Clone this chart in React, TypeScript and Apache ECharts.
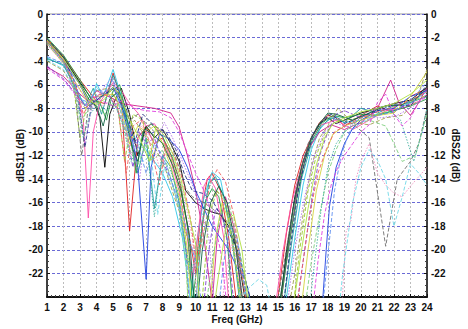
import React, { useEffect, useRef } from "react";
import * as echarts from "echarts";

// Frequency axis ticks (GHz) and magnitude axis range (dB)
const FREQ_TICKS = [1, 2, 3, 4, 5, 6, 7, 8, 9, 10, 11, 12, 13, 14, 15, 16, 17, 18, 19, 20, 21, 22, 23, 24];
const DB_MIN = -24;
const DB_MAX = 0;

// Measured return-loss traces, [freq GHz, dB]
const trace01 = [[1,-2.1],[2,-3.6],[3,-5.6],[4,-7.4],[4.5,-7.6],[5,-5.0],[5.5,-7.2],[6,-18.4],[6.5,-10.5],[7,-9.6],[7.5,-11],[8,-10.5],[8.5,-12],[9,-14],[9.5,-18],[10,-22],[10.3,-17],[10.7,-14],[11,-13.5],[11.5,-15],[12,-19],[12.6,-26],[14.8,-26],[15.5,-18.5],[16,-14.5],[16.5,-12],[17,-10.5],[17.5,-9.2],[18,-8.6],[18.5,-8.8],[19,-9.5],[20,-8.6],[21,-7.8],[22,-8.4],[23,-7.0],[24,-6.3]];
const trace02 = [[1,-2.2],[2,-3.7],[3,-5.8],[3.8,-7.4],[4.2,-8.8],[4.5,-13],[4.8,-8.5],[5.2,-7],[5.5,-6.3],[6,-8.5],[6.5,-12],[7,-9.5],[7.5,-10.5],[8,-9.8],[8.5,-11],[9,-12.5],[9.4,-15],[10,-16],[10.5,-16.5],[11,-16.8],[11.5,-17],[12,-18],[12.5,-20],[13.2,-26],[15,-26],[15.5,-20],[16,-15.5],[16.5,-12.5],[17,-10.5],[17.5,-9.3],[18,-8.8],[18.5,-9.3],[19,-9.0],[20,-8.4],[21,-8.0],[22,-7.6],[23,-7.3],[24,-6.2]];
const trace03 = [[1,-3.7],[2,-4.4],[2.6,-5.8],[3.2,-7.6],[3.6,-7.8],[4,-5.9],[4.4,-7],[5,-4.7],[5.4,-6.5],[5.8,-9],[6.3,-10.5],[7,-11.5],[7.5,-12.5],[8,-13.5],[8.6,-15.5],[9.2,-19],[9.7,-24.5],[10,-20],[10.5,-15.5],[11,-13.4],[11.5,-14],[12,-17.5],[12.6,-23],[13,-26],[15.3,-26],[16,-19],[16.5,-14.5],[17,-11.5],[17.5,-9.8],[18,-9.0],[18.5,-8.7],[19,-9.2],[20,-9],[21,-8.5],[22,-8.2],[23,-7.5],[24,-6.6]];
const trace04 = [[1,-3.8],[2,-4.3],[2.8,-6.5],[3.3,-7.8],[3.8,-6.3],[4.3,-8.5],[5,-5.2],[5.5,-7],[6,-10],[6.5,-13.5],[7,-10.5],[7.5,-16.5],[8,-12],[8.5,-13],[9,-16],[9.5,-21],[10,-24.5],[10.4,-18],[10.8,-14.3],[11.2,-13.8],[11.7,-15.5],[12.2,-19],[12.8,-26],[15.2,-26],[15.8,-19.5],[16.4,-14],[17,-11],[17.6,-9.5],[18.2,-8.8],[19,-9.2],[20,-8.0],[21,-8.4],[22,-7.8],[23,-7.5],[24,-7.0]];
const trace05 = [[1,-4.5],[2,-5.3],[3,-6.8],[3.5,-7.4],[4,-6.5],[5,-7.2],[5.5,-7.6],[6.5,-7.8],[7.5,-8.0],[8.5,-8.4],[9,-9.6],[9.5,-12],[10,-15],[10.5,-19],[11,-24.5],[11.3,-19],[11.8,-15.5],[12.3,-18],[12.8,-24.5],[15,-26],[15.6,-20],[16.2,-14.5],[16.8,-11.5],[17.5,-10],[18.2,-9.4],[19,-9.8],[20,-9.2],[21,-8.0],[21.8,-5.6],[22.3,-7.5],[23,-8.6],[23.5,-7.5],[24,-6.2]];
const trace06 = [[1,-2.3],[2,-3.9],[2.7,-5.8],[3.2,-9],[3.5,-17.3],[3.8,-10],[4.2,-7.5],[5,-5.8],[5.5,-6.5],[6,-7.6],[6.5,-8.4],[7,-9.5],[7.5,-9.3],[8,-10.5],[8.5,-12.5],[9,-15],[9.5,-19],[9.8,-22.5],[10.1,-19],[10.5,-14.6],[10.8,-13.8],[11.2,-14.8],[11.7,-19],[12,-24.5],[14.7,-26],[15.3,-20],[15.8,-16],[16.5,-12.5],[17,-10.5],[17.6,-9.4],[18.5,-9.0],[19.5,-9.8],[20.5,-9.0],[21.5,-8.2],[22.5,-8.0],[23.5,-7.4],[24,-6.8]];
const trace07 = [[1,-2.3],[2,-4],[3,-6],[3.6,-7.8],[4,-7.3],[4.5,-6.8],[5,-6.2],[5.5,-7.8],[6,-9.5],[6.5,-13],[7,-22.5],[7.3,-13],[7.8,-10.2],[8.3,-10.5],[9,-11.5],[9.5,-13],[10,-15],[10.5,-16.5],[11,-18],[11.5,-19],[12,-20],[12.5,-21.5],[13,-22.5],[13.6,-26],[17.6,-26],[17.9,-20],[18.1,-16.3],[18.5,-13],[19,-11],[19.5,-9.7],[20,-9.0],[21,-8.2],[22,-8.0],[23,-7.0],[24,-6.5]];
const trace08 = [[1,-2.0],[2,-3.5],[3,-5.6],[3.7,-7.3],[4.2,-7.5],[4.6,-9],[5,-6.5],[5.4,-6],[5.8,-8.5],[6.4,-13.5],[6.8,-10],[7.3,-9.3],[8,-10.4],[8.6,-12.2],[9.1,-14.5],[9.5,-18],[9.8,-24.5],[10.2,-20],[10.6,-15.8],[11,-14.8],[11.4,-15.5],[11.9,-19],[12.3,-26],[15,-26],[15.5,-21],[16,-16.5],[16.5,-13],[17,-10.8],[17.6,-9.3],[18.3,-8.6],[19,-8.8],[20,-8.5],[21,-8.6],[22,-8.2],[23,-7.8],[24,-7.2]];
const trace09 = [[1,-2.4],[2,-4],[2.6,-6],[3,-10.5],[3.4,-7.8],[4,-7.5],[4.7,-6.5],[5.2,-7],[5.7,-12.5],[6.2,-8.5],[6.8,-9],[7.3,-12.5],[7.8,-10.5],[8.3,-11.5],[8.8,-13.5],[9.3,-17],[9.6,-26],[10.3,-26],[10.8,-17],[11.3,-15],[11.8,-16],[12.3,-19.5],[12.8,-26],[15.8,-26],[16.3,-20],[16.8,-15],[17.3,-12],[17.8,-10.2],[18.4,-9.2],[19,-9.0],[20,-8.8],[21,-8.5],[22,-8.1],[23,-7.4],[24,-6.9]];
const trace10 = [[1,-2.5],[2,-4.2],[3,-6.4],[3.5,-7.6],[4,-7.0],[5,-6.8],[5.5,-8],[6,-11],[6.5,-9.5],[7,-10],[7.5,-9.5],[8,-11],[8.5,-13],[9,-15.5],[9.5,-20],[9.8,-26],[10.8,-26],[11.2,-19],[11.6,-16],[12,-17.5],[12.5,-22],[13,-26],[16.3,-26],[16.8,-20],[17.3,-15],[17.8,-12],[18.3,-10.2],[19,-9.5],[20,-9.0],[21,-8.6],[22,-8.4],[23,-7.0],[24,-4.9]];
const trace11 = [[1,-4.4],[2,-5.5],[3,-7.2],[3.5,-8],[4,-7],[4.6,-6.5],[5.2,-8],[5.8,-10],[6.2,-13],[6.6,-10],[7,-11],[7.5,-10.5],[8,-12.5],[8.5,-14],[9,-16.5],[9.4,-20],[9.7,-26],[10.4,-26],[10.8,-20],[11.2,-16.5],[11.6,-17],[12,-20],[12.4,-26],[16,-26],[16.5,-21],[17,-16],[17.5,-12],[18,-10],[18.5,-8.5],[19,-8.2],[20,-8.8],[21,-8.0],[22,-8.2],[23,-7.6],[24,-6.4]];
const trace12 = [[1,-2.2],[2,-3.8],[2.7,-6.5],[3.1,-12],[3.5,-8],[4,-7.3],[5,-6],[5.5,-7.5],[6,-9],[6.5,-8.5],[7,-9.3],[7.5,-10],[8,-9.8],[8.5,-11],[9,-13],[9.4,-14.8],[9.8,-15.5],[10.5,-16],[11,-16.5],[11.6,-17.2],[12.2,-18],[12.7,-20.5],[13.3,-26],[14.5,-26],[15,-24],[15.6,-19],[16.2,-14],[16.8,-11],[17.4,-9.4],[18,-8.5],[18.5,-8.8],[19.5,-9.3],[20.5,-10.5],[21.5,-19.7],[22.2,-14],[23,-12.5],[23.5,-11],[24,-8]];
const trace13 = [[1,-2.1],[2,-3.6],[2.8,-6.2],[3.3,-11.3],[3.7,-7.6],[4.5,-6.8],[5.2,-6.2],[5.8,-8],[6.3,-11],[6.8,-8.5],[7.5,-9.5],[8.2,-10],[8.8,-11.5],[9.3,-13.5],[9.8,-15],[10.4,-15.2],[11,-15.8],[11.7,-17.5],[12.5,-20],[13.2,-23.5],[13.6,-26],[15.2,-26],[15.7,-20],[16.2,-15],[16.7,-12],[17.2,-10],[17.7,-9],[18.2,-8.5],[19,-9.3],[20,-8.7],[21,-8.2],[22,-7.7],[23,-7.8],[24,-6.0]];
const trace14 = [[1,-2.3],[2,-3.9],[2.7,-6.3],[3,-9],[3.5,-8.2],[4,-7.8],[4.5,-8.5],[5,-7.5],[5.5,-8.8],[6,-11.5],[6.5,-12.8],[7,-11],[7.5,-12.3],[8,-11.5],[8.5,-14],[9,-16.5],[9.4,-21],[9.6,-26],[10.5,-26],[11,-21],[11.5,-17],[12,-16],[12.5,-19],[13,-22.5],[13.5,-26],[16.5,-26],[17,-21],[17.5,-17],[18,-13.5],[18.5,-11.5],[19,-10],[19.5,-9.5],[20.5,-9.0],[21.5,-9.5],[22.5,-12.5],[23.3,-12],[24,-8.5]];
const trace15 = [[1,-4.0],[2,-4.8],[2.8,-6.8],[3.3,-8],[4,-6.5],[4.7,-6.3],[5.3,-7.5],[5.8,-10],[6.3,-9],[7,-10.5],[7.6,-11.5],[8.2,-13.3],[8.7,-15.5],[9.2,-17.5],[9.7,-20],[10.2,-20.5],[10.7,-17],[11.2,-15],[11.7,-15.5],[12.3,-18.5],[12.9,-23],[13.3,-26],[15.5,-26],[16,-22],[16.5,-17],[17,-13],[17.5,-10.5],[18,-9.5],[18.6,-8.0],[19.5,-9.2],[20.5,-9.4],[21.5,-8.8],[22.5,-8.6],[23.3,-7.5],[24,-4.7]];
const trace16 = [[1,-2.6],[2,-4.2],[3,-6.5],[3.6,-7.5],[4.3,-7.8],[5,-7.3],[5.6,-9],[6.1,-12],[6.7,-9.5],[7.3,-10.5],[7.8,-13],[8.3,-11.5],[8.8,-13],[9.3,-15.5],[9.8,-19],[10.2,-26],[11.5,-26],[11.8,-22],[12.2,-19.5],[12.6,-21],[13,-26],[18.8,-26],[19.1,-18.5],[19.4,-17.5],[19.7,-14],[20,-12.5],[20.5,-11],[21,-13.5],[21.5,-14.5],[22,-15.2],[22.5,-15.5],[23,-14.6],[23.5,-13.8],[24,-13]];
const trace17 = [[1,-3.9],[2,-4.7],[2.8,-6.7],[3.4,-7.8],[4,-6.2],[4.6,-7.2],[5.2,-6.8],[5.7,-9.5],[6.2,-11],[6.8,-12.5],[7.3,-12],[7.7,-17],[8.1,-13],[8.6,-14.5],[9.1,-17],[9.5,-22],[9.8,-26],[12.5,-26],[13,-23.5],[13.8,-22.5],[14.3,-23],[14.7,-26],[18.6,-26],[18.9,-22],[19.1,-20],[19.5,-16],[20,-13],[20.5,-11.5],[21,-12.4],[21.5,-14],[22,-18],[22.5,-15.5],[23,-12.7],[23.5,-13.5],[24,-14.5]];
const trace18 = [[1,-2.4],[2,-4.1],[2.9,-7.5],[3.3,-11],[3.7,-8],[4.3,-6.5],[4.9,-5.4],[5.4,-7.5],[6,-10],[6.6,-14],[7,-9.8],[7.6,-11],[8.1,-9.2],[8.6,-10.5],[9.2,-12.5],[9.8,-14.5],[10.3,-16.5],[10.8,-19],[11.2,-26],[15.4,-26],[16,-20],[16.6,-15.5],[17.2,-12],[17.8,-10],[18.4,-9.2],[19.2,-9.6],[20.2,-8.6],[21.2,-8.8],[22.2,-8.6],[23.2,-7.8],[24,-6.8]];
const trace19 = [[1,-2.2],[2,-3.7],[3,-5.9],[3.6,-7.4],[4,-7.8],[4.4,-9.5],[4.8,-7.2],[5.3,-6.6],[5.8,-9.3],[6.2,-11.5],[6.5,-12.5],[6.9,-9.7],[7.4,-10.2],[8,-11],[8.6,-12.8],[9.1,-15],[9.6,-18.5],[10,-26],[10.4,-20],[10.9,-16],[11.4,-14.6],[11.9,-16],[12.4,-19.5],[13,-26],[14.9,-26],[15.4,-21.5],[15.9,-16.5],[16.4,-13],[17,-10.5],[17.5,-9.3],[18,-8.4],[18.5,-8.5],[19.5,-9.0],[20.5,-8.4],[21.5,-7.8],[22.5,-7.7],[23.5,-7.0],[24,-6.2]];
const trace20 = [[1,-2.3],[2,-3.9],[2.8,-6.4],[3.2,-8.5],[3.7,-7.2],[4.2,-6.8],[4.8,-6.9],[5.3,-8],[5.8,-13.5],[6.2,-9.5],[6.7,-9],[7.2,-10.8],[7.8,-14.5],[8.2,-11],[8.7,-12],[9.2,-14],[9.7,-17.5],[10.1,-22],[10.5,-17],[10.9,-14.2],[11.3,-13.2],[11.8,-14.2],[12.3,-17],[12.8,-22],[13.2,-26],[16,-26],[16.4,-22],[16.9,-17],[17.4,-13.5],[17.9,-11.5],[18.4,-10],[19,-9.5],[20,-8.8],[21,-8.3],[22,-7.9],[23,-7.3],[24,-6.6]];
const trace21 = [[1,-3.6],[2,-4.2],[2.6,-5.4],[3,-7.2],[3.5,-7.5],[4,-6.4],[4.5,-6.6],[5,-5.5],[5.5,-7.8],[6,-10.5],[6.5,-11],[7,-13.5],[7.5,-11],[8,-12],[8.5,-14],[9,-16],[9.5,-18.5],[10,-21],[10.5,-26],[11.3,-26],[11.7,-21],[12.1,-18],[12.5,-19],[13,-23.5],[13.4,-26],[17.6,-26],[18,-20.5],[18.4,-15],[18.8,-12],[19.3,-10],[20,-9.2],[21,-8.6],[22,-8.3],[23,-7.3],[24,-5.8]];
const trace22 = [[1,-2.5],[2,-4.1],[2.8,-6.7],[3.2,-10.5],[3.6,-8.5],[4.1,-7.6],[4.6,-8.2],[5.1,-7.5],[5.6,-9.5],[6.1,-12.5],[6.6,-11],[7.1,-12],[7.5,-17.2],[7.9,-12.5],[8.4,-13],[8.9,-15],[9.3,-19],[9.7,-22],[10.2,-19.5],[10.7,-15],[11.1,-13.9],[11.6,-15],[12.1,-18],[12.6,-23],[13,-26],[16.8,-26],[17.2,-21],[17.6,-16.5],[18,-13],[18.5,-11],[19,-10],[19.6,-9.3],[20.4,-8.2],[21.4,-7.8],[22.4,-9.0],[23.2,-12.5],[23.7,-10],[24,-8]];
const trace23 = [[1,-4.6],[2,-5.6],[2.8,-7],[3.3,-7.8],[3.8,-7],[4.5,-7.5],[5,-7.8],[5.6,-7.3],[6.3,-8],[7,-8.2],[7.8,-8.3],[8.5,-8.8],[9,-10],[9.5,-11.8],[10,-13.5],[10.5,-15],[11,-17],[11.5,-20],[12,-26],[17,-26],[17.4,-21],[17.8,-17],[18.2,-14.5],[18.6,-13],[19,-12],[19.5,-11],[20,-10],[20.5,-9.4],[21,-7.5],[21.5,-6.8],[22,-8.5],[22.5,-9.5],[23,-8.8],[23.5,-7.5],[24,-7.0]];
const trace24 = [[1,-2.2],[2,-3.8],[3,-6],[3.5,-7.3],[4,-7.7],[4.5,-7.2],[5,-6.2],[5.4,-6.8],[6,-9],[6.6,-10.5],[7.2,-12.5],[7.6,-9.5],[8.1,-10.3],[8.6,-11.8],[9.1,-14],[9.6,-17],[10,-19.5],[10.3,-26],[11,-26],[11.4,-22],[11.9,-17.5],[12.3,-17],[12.8,-20],[13.3,-26],[15.8,-26],[16.3,-21],[16.8,-16.5],[17.3,-12.8],[17.8,-10.5],[18.3,-9.3],[19,-8.8],[20,-8.3],[21,-8.0],[22,-7.6],[23,-6.8],[24,-5.6]];

const TRACES = [trace01, trace02, trace03, trace04, trace05, trace06, trace07, trace08, trace09, trace10, trace11, trace12, trace13, trace14, trace15, trace16, trace17, trace18, trace19, trace20, trace21, trace22, trace23, trace24];

// Line colours and dash patterns, one per trace
const TRACE_COLORS = ["#e02020", "#000000", "#30c8e8", "#209a9a", "#d0208c", "#ff4fa8", "#2040e0", "#20a040", "#9acd32", "#d4d440", "#8040d0", "#707070", "#203080", "#80d080", "#a0a050", "#f090c0", "#70d8e8", "#b070e8", "#106040", "#f06060", "#6090f0", "#40b0a0", "#e040e0", "#b0e040"];
const TRACE_DASH = ["solid", "solid", "solid", "solid", "solid", "solid", "solid", "solid", "dashed", "solid", "dashed", "dashed", "dashed", "dashed", "dashed", "dotted", "dashed", "dotted", "solid", "dashed", "dashed", "dotted", "dashed", "solid"];

const FONT = "'Liberation Sans', Arial, sans-serif";

export default function App() {
  const ref = useRef<HTMLDivElement>(null);

  useEffect(() => {
    document.body.style.margin = "0";
    if (!ref.current) return;
    const chart = echarts.init(ref.current, null, { renderer: "svg" });

    const dashFor = (d: string) => (d === "dashed" ? [4, 2] : d === "dotted" ? [1.5, 1.5] : "solid");

    const axisLabel = { color: "#111", fontFamily: FONT, fontWeight: "bold" as const, fontSize: 10 };
    const nameStyle = { color: "#111", fontFamily: FONT, fontWeight: "bold" as const, fontSize: 10 };

    const yAxisBase = {
      type: "value" as const,
      min: DB_MIN,
      max: DB_MAX,
      interval: 2,
      nameLocation: "middle" as const,
      nameMoveOverlap: false,
      nameTextStyle: nameStyle,
      axisLine: { show: true, lineStyle: { color: "#111", width: 1.5 } },
      axisTick: { show: true, inside: true, length: 3, lineStyle: { color: "#111" } },
      minorTick: { show: true, splitNumber: 4, length: 2, lineStyle: { color: "#444" } },
      axisLabel: { ...axisLabel, margin: 4, formatter: (v: number) => (v === DB_MIN ? "" : String(v)) },
    };

    chart.setOption({
      animation: false,
      backgroundColor: "#ffffff",
      grid: { left: 47, right: 31, top: 14, bottom: 28, show: true, borderColor: "#999", borderWidth: 1, backgroundColor: "#fff" },
      xAxis: {
        type: "value",
        min: FREQ_TICKS[0],
        max: FREQ_TICKS[FREQ_TICKS.length - 1],
        interval: 1,
        name: "Freq (GHz)",
        nameLocation: "middle",
        nameGap: 17,
        nameMoveOverlap: false,
        nameTextStyle: nameStyle,
        axisLine: { show: true, onZero: false, lineStyle: { color: "#111", width: 2 } },
        axisTick: { show: true, inside: true, length: 3, lineStyle: { color: "#111" } },
        minorTick: { show: true, splitNumber: 4, length: 2, lineStyle: { color: "#444" } },
        axisLabel: { ...axisLabel, margin: 5 },
        splitLine: { show: true, lineStyle: { color: "#bcbcbc", type: [2, 2], width: 1 } },
      },
      yAxis: [
        {
          ...yAxisBase,
          position: "left",
          name: "dBS11 (dB)",
          nameGap: 22,
          splitLine: { show: true, lineStyle: { color: "#6a6ad6", type: [3, 2], width: 1 } },
        },
        {
          ...yAxisBase,
          position: "right",
          name: "dBS22 (dB)",
          nameGap: 23,
          nameRotate: -90,
          splitLine: { show: false },
        },
      ],
      series: TRACES.map((data, i) => ({
        type: "line",
        name: `trace${i + 1}`,
        data,
        yAxisIndex: 0,
        showSymbol: false,
        symbol: "none",
        clip: true,
        lineStyle: { color: TRACE_COLORS[i], width: 1, opacity: 0.9, type: dashFor(TRACE_DASH[i]) },
        emphasis: { disabled: true },
      })),
    });

    return () => chart.dispose();
  }, []);

  return <div ref={ref} style={{ width: 468, height: 329, position: "absolute", left: 0, top: 0 }} />;
}
